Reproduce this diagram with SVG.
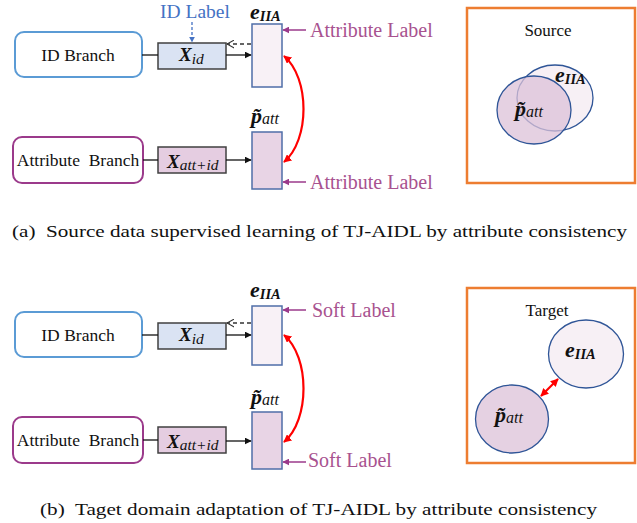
<svg xmlns="http://www.w3.org/2000/svg" width="637" height="523" viewBox="0 0 637 523">
<style>
text{font-family:"Liberation Serif",Tinos,"Times New Roman","DejaVu Serif",serif;}
.branch{fill:#fff;stroke-width:2;}
.idb{stroke:#5B9BD5;}
.atb{stroke:#9B3A8B;}
.xid{fill:#DAE3F3;stroke:#404040;stroke-width:1.5;}
.xat{fill:#E5CDE1;stroke:#404040;stroke-width:1.5;}
.ebox{fill:#F8F1F6;stroke:#4F6EA8;stroke-width:1.5;}
.pbox{fill:#E8D4E5;stroke:#4F6EA8;stroke-width:1.5;}
.btxt{font-size:17.5px;fill:#111;text-anchor:middle;}
.lbl{font-size:20px;fill:#A8528F;}
.math{font-style:italic;fill:#111;}
.bi{font-weight:bold;}
.big{font-size:22px;}
.xl{font-size:19px;}
.s1{font-size:14.5px;}
.s2{font-size:15.5px;}
.s3{font-size:16px;}
.ln{stroke:#111;stroke-width:1.3;fill:none;}
.arr{stroke:#111;stroke-width:1.3;fill:none;marker-end:url(#blk);}
.dash{stroke:#333;stroke-width:1.3;fill:none;stroke-dasharray:4 3;marker-end:url(#open);}
.larr{stroke:#9B3A8B;stroke-width:1.5;fill:none;marker-end:url(#pur);}
.red{stroke:#FF0000;stroke-width:2.2;fill:none;marker-start:url(#redh);marker-end:url(#redh);}
.frame{fill:#fff;stroke:#ED7D31;stroke-width:2.5;}
.ce{fill:#F7F0F5;stroke:#2F5597;stroke-width:1.3;}
.cp{fill:#DCC2D8;fill-opacity:0.75;stroke:#2F5597;stroke-width:1.3;}
.cap{font-size:17.5px;fill:#111;}
</style>
<defs>
<marker id="blk" viewBox="0 0 10 10" refX="9" refY="5" markerWidth="7" markerHeight="7" markerUnits="userSpaceOnUse" orient="auto"><path d="M0,0 L10,5 L0,10 z" fill="#111"/></marker>
<marker id="open" viewBox="0 0 10 10" refX="9" refY="5" markerWidth="8" markerHeight="9" markerUnits="userSpaceOnUse" orient="auto"><path d="M0,0 L9,5 L0,10" fill="none" stroke="#333" stroke-width="1.3"/></marker>
<marker id="pur" viewBox="0 0 10 10" refX="9" refY="5" markerWidth="7" markerHeight="7" markerUnits="userSpaceOnUse" orient="auto"><path d="M0,0 L10,5 L0,10 z" fill="#9B3A8B"/></marker>
<marker id="blu" viewBox="0 0 10 10" refX="9" refY="5" markerWidth="6" markerHeight="6" markerUnits="userSpaceOnUse" orient="auto"><path d="M0,0 L10,5 L0,10 z" fill="#4472C4"/></marker>
<marker id="redh" viewBox="0 0 10 10" refX="9" refY="5" markerWidth="8" markerHeight="8" markerUnits="userSpaceOnUse" orient="auto-start-reverse"><path d="M0,0 L10,5 L0,10 z" fill="#FF0000"/></marker>
</defs>

<!-- ===== Panel (a) ===== -->
<g id="a-id-branch"><rect class="branch idb" x="15" y="32" width="127" height="45" rx="9"/><text class="btxt" x="78" y="61">ID Branch</text></g>
<g id="a-att-branch"><rect class="branch atb" x="13" y="137" width="130" height="46" rx="9"/><text class="btxt" x="78" y="166" xml:space="preserve">Attribute  Branch</text></g>
<g id="a-xid"><rect class="xid" x="158" y="43" width="68" height="26"/><text class="math" x="179" y="61"><tspan class="bi xl">X</tspan><tspan class="s2" dy="3">id</tspan></text></g>
<g id="a-xatt"><rect class="xat" x="158" y="147" width="68" height="26"/><text class="math" x="167" y="168"><tspan class="bi xl">X</tspan><tspan class="s2" dy="2">att+id</tspan></text></g>
<g id="a-e"><rect class="ebox" x="252" y="24" width="30" height="63"/><text class="math bi" x="250" y="19"><tspan class="big">e</tspan><tspan class="s1" dy="2">IIA</tspan></text></g>
<g id="a-p"><rect class="pbox" x="252" y="132" width="30" height="57"/><text class="math" x="251" y="123"><tspan class="bi big">p&#x303;</tspan><tspan class="s3" dy="1">att</tspan></text></g>
<g id="a-idlabel"><text x="195" y="18" font-size="19.5" fill="#4472C4" text-anchor="middle">ID Label</text></g>
<g id="a-attlabel1"><text class="lbl" x="310" y="37">Attribute Label</text></g>
<g id="a-attlabel2"><text class="lbl" x="310" y="189">Attribute Label</text></g>
<g id="a-source">
<rect class="frame" x="467" y="8" width="168" height="175"/>
<text x="548" y="36" font-size="17" fill="#111" text-anchor="middle">Source</text>
<ellipse class="ce" cx="555" cy="98" rx="38" ry="33"/>
<ellipse class="cp" cx="534" cy="110" rx="37" ry="34"/>
<text class="math bi" x="555" y="82"><tspan class="big">e</tspan><tspan class="s1" dy="2">IIA</tspan></text>
<text class="math" x="515" y="116"><tspan class="bi big">p&#x303;</tspan><tspan class="s3" dy="1">att</tspan></text>
</g>
<g id="a-connectors">
<line class="ln" x1="142" y1="55" x2="158" y2="55"/>
<line class="ln" x1="143" y1="160" x2="158" y2="160"/>
<line class="arr" x1="226" y1="55" x2="251" y2="55"/>
<line class="arr" x1="226" y1="160" x2="251" y2="160"/>
<line class="dash" x1="251" y1="44" x2="227" y2="44"/>
<line x1="192" y1="22" x2="192" y2="42" stroke="#4472C4" stroke-width="1.3" stroke-dasharray="3 2" marker-end="url(#blu)"/>
<line class="larr" x1="306" y1="30" x2="283" y2="30"/>
<line class="larr" x1="306" y1="182" x2="283" y2="182"/>
<path class="red" d="M284,56 C310,78 310,140 284,162"/>
</g>

<g id="caption-a"><text class="cap" x="12" y="237" textLength="615" lengthAdjust="spacingAndGlyphs" xml:space="preserve">(a)  Source data supervised learning of TJ-AIDL by attribute consistency</text></g>

<!-- ===== Panel (b) ===== -->
<g id="b-id-branch"><rect class="branch idb" x="15" y="312" width="127" height="45" rx="9"/><text class="btxt" x="78" y="341">ID Branch</text></g>
<g id="b-att-branch"><rect class="branch atb" x="13" y="417" width="130" height="46" rx="9"/><text class="btxt" x="78" y="446" xml:space="preserve">Attribute  Branch</text></g>
<g id="b-xid"><rect class="xid" x="158" y="323" width="68" height="26"/><text class="math" x="179" y="341"><tspan class="bi xl">X</tspan><tspan class="s2" dy="3">id</tspan></text></g>
<g id="b-xatt"><rect class="xat" x="158" y="427" width="68" height="26"/><text class="math" x="167" y="448"><tspan class="bi xl">X</tspan><tspan class="s2" dy="2">att+id</tspan></text></g>
<g id="b-e"><rect class="ebox" x="252" y="306" width="30" height="59"/><text class="math bi" x="250" y="297"><tspan class="big">e</tspan><tspan class="s1" dy="2">IIA</tspan></text></g>
<g id="b-p"><rect class="pbox" x="252" y="412" width="30" height="57"/><text class="math" x="251" y="404"><tspan class="bi big">p&#x303;</tspan><tspan class="s3" dy="1">att</tspan></text></g>
<g id="b-softlabel1"><text class="lbl" x="312" y="317">Soft Label</text></g>
<g id="b-softlabel2"><text class="lbl" x="308" y="467">Soft Label</text></g>
<g id="b-target">
<rect class="frame" x="467" y="288" width="168" height="175"/>
<text x="547" y="316" font-size="17" fill="#111" text-anchor="middle">Target</text>
<ellipse class="ce" cx="586" cy="354" rx="37.5" ry="34"/>
<ellipse class="cp" cx="512" cy="419" rx="36.5" ry="34"/>
<text class="math bi" x="565" y="357"><tspan class="big">e</tspan><tspan class="s1" dy="2">IIA</tspan></text>
<text class="math" x="495" y="422"><tspan class="bi big">p&#x303;</tspan><tspan class="s3" dy="1">att</tspan></text>
</g>
<g id="b-connectors">
<line class="ln" x1="142" y1="335" x2="158" y2="335"/>
<line class="ln" x1="143" y1="440" x2="158" y2="440"/>
<line class="arr" x1="226" y1="335" x2="251" y2="335"/>
<line class="arr" x1="226" y1="441" x2="251" y2="441"/>
<line class="dash" x1="251" y1="323" x2="227" y2="323"/>
<line class="larr" x1="306" y1="310" x2="283" y2="310"/>
<line class="larr" x1="306" y1="462" x2="283" y2="462"/>
<path class="red" d="M284,335 C310,357 310,420 284,442"/>
<line class="red" x1="541" y1="396" x2="558" y2="379" stroke-width="2"/>
</g>

<g id="caption-b"><text class="cap" x="40" y="515" textLength="557" lengthAdjust="spacingAndGlyphs" xml:space="preserve">(b)  Taget domain adaptation of TJ-AIDL by attribute consistency</text></g>
</svg>
